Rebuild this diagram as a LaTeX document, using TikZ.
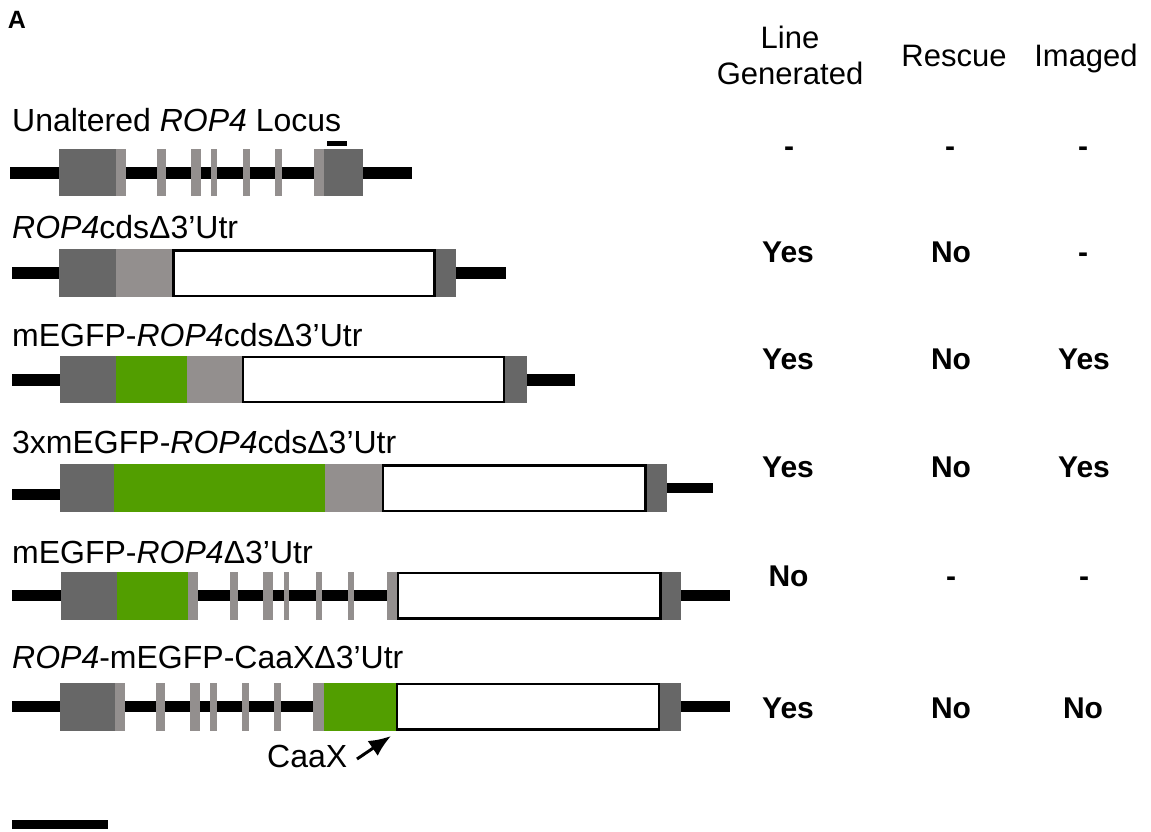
\documentclass[tikz,border=0pt]{standalone}
\usepackage{fontspec}
\setmainfont{Liberation Sans}
\usetikzlibrary{arrows.meta}
\definecolor{exdark}{RGB}{103,103,103}
\definecolor{exlight}{RGB}{147,143,142}
\definecolor{fpgreen}{RGB}{82,158,0}
\begin{document}
\begin{tikzpicture}[x=1pt,y=-1pt,
  intron/.style={fill=black},
  cds/.style={fill=exdark},
  exon/.style={fill=exlight},
  gfp/.style={fill=fpgreen},
  utr/.style={fill=white,draw=black,line width=2.4pt},
  lbl/.style={anchor=base west,inner sep=0pt,font=\fontsize{32}{36}\selectfont},
  val/.style={anchor=base,inner sep=0pt,font=\fontsize{30}{36}\selectfont\bfseries},
  hdr/.style={inner sep=0pt,align=center,font=\fontsize{31}{36}\selectfont}]
\useasboundingbox (0,0) rectangle (1151,831);
\fill[white] (0,0) rectangle (1151,831);

% panel letter
\node[inner sep=0pt,font=\fontsize{25}{28}\selectfont\bfseries] (panel) at (17,20) {A};

% column headers
\node[hdr] (hline) at (790,55) {Line\\Generated};
\node[hdr,anchor=base] (hrescue) at (954,66) {Rescue};
\node[hdr,anchor=base] (himaged) at (1086,66) {Imaged};

% ---- unaltered locus ----
\node[lbl] (lab1) at (12,131) {Unaltered \textit{ROP4} Locus};
\fill[intron] (10,167) rectangle (412,179);
\fill[cds] (59,149) rectangle (115.7,196);
\fill[exon] (115.7,149) rectangle (125.7,196);
\fill[exon] (156.7,149) rectangle (165.7,196);
\fill[exon] (190.7,149) rectangle (200.7,196);
\fill[exon] (211,149) rectangle (217.3,196);
\fill[exon] (243.3,149) rectangle (250,196);
\fill[exon] (275.3,149) rectangle (282,196);
\fill[exon] (314.3,149) rectangle (324.3,196);
\fill[cds] (324.3,149) rectangle (363.3,196);
\fill[intron] (326.7,141) rectangle (347.3,145.5);

% ---- ROP4cds d3'UTR ----
\node[lbl] (lab2) at (12,238.5) {\textit{ROP4}cdsΔ3’Utr};
\fill[intron] (11.7,267.3) rectangle (505.7,279);
\fill[cds] (59.3,249.3) rectangle (115.7,297.3);
\fill[exon] (115.7,249.3) rectangle (172.3,297.3);
\fill[cds] (435.7,249.3) rectangle (456,297.3);
\draw[utr] (173.5,250.5) rectangle (434.5,296.1);

% ---- mEGFP-ROP4cds ----
\node[lbl] (lab3) at (12,346) {mEGFP-\textit{ROP4}cdsΔ3’Utr};
\fill[intron] (11.7,374.3) rectangle (575,385.7);
\fill[cds] (60,356) rectangle (116,403.3);
\fill[gfp] (116,356) rectangle (187.3,403.3);
\fill[exon] (187.3,356) rectangle (241.7,403.3);
\fill[cds] (505,356) rectangle (526.7,403.3);
\draw[utr] (243,357.2) rectangle (503.8,402.1);

% ---- 3xmEGFP-ROP4cds ----
\node[lbl] (lab4) at (12,453.3) {3xmEGFP-\textit{ROP4}cdsΔ3’Utr};
\fill[intron] (11.7,489) rectangle (61,500.3);
\fill[intron] (665,482.7) rectangle (713.3,493.3);
\fill[cds] (60,464.3) rectangle (114,512.3);
\fill[gfp] (114,464.3) rectangle (325,512.3);
\fill[exon] (325,464.3) rectangle (381.7,512.3);
\fill[cds] (646.7,464.3) rectangle (666.7,512.3);
\draw[utr] (383,465.5) rectangle (645.5,511.1);

% ---- mEGFP-ROP4 gene ----
\node[lbl] (lab5) at (12,563.3) {mEGFP-\textit{ROP4}Δ3’Utr};
\fill[intron] (11.7,590) rectangle (730,601);
\fill[cds] (61,571.5) rectangle (117.3,619.5);
\fill[gfp] (117.3,571.5) rectangle (188.3,619.5);
\fill[exon] (188.3,571.5) rectangle (198.3,619.5);
\fill[exon] (230,571.5) rectangle (237.7,619.5);
\fill[exon] (263.3,571.5) rectangle (272.7,619.5);
\fill[exon] (284,571.5) rectangle (289.3,619.5);
\fill[exon] (316,571.5) rectangle (322,619.5);
\fill[exon] (348.3,571.5) rectangle (354,619.5);
\fill[exon] (386.7,571.5) rectangle (396.7,619.5);
\fill[cds] (661.7,571.5) rectangle (681,619.5);
\draw[utr] (398,572.7) rectangle (660.5,618.3);

% ---- ROP4-mEGFP-CaaX ----
\node[lbl] (lab6) at (12,668.3) {\textit{ROP4}-mEGFP-CaaXΔ3’Utr};
\fill[intron] (11.7,700.7) rectangle (730,712.3);
\fill[cds] (60.3,682.7) rectangle (115.4,730.7);
\fill[exon] (115.4,682.7) rectangle (124.8,730.7);
\fill[exon] (156.4,682.7) rectangle (164.9,730.7);
\fill[exon] (189.9,682.7) rectangle (200.3,730.7);
\fill[exon] (210.2,682.7) rectangle (216.8,730.7);
\fill[exon] (242.2,682.7) rectangle (248.8,730.7);
\fill[exon] (274.3,682.7) rectangle (280.9,730.7);
\fill[exon] (313.4,682.7) rectangle (324.2,730.7);
\fill[gfp] (324.2,682.7) rectangle (395.7,730.7);
\fill[cds] (660,682.7) rectangle (681,730.7);
\draw[utr] (397,684) rectangle (658.8,729.5);

% CaaX pointer
\node[lbl] (caax) at (267,767) {CaaX};
\coordinate (caaxend) at (391,736);
\coordinate (caaxtail) at (357,759);
\draw[line width=3pt,-{Latex[length=22pt,width=18pt]}] (caaxtail) -- (caaxend);

% scale bar
\fill[intron] (12,820) rectangle (108,828.5);

% ---- outcome table ----
\node[val] (r1a) at (789,156) {-};
\node[val] (r1b) at (950,156) {-};
\node[val] (r1c) at (1083,156) {-};
\node[val] (r2a) at (788,262) {Yes};
\node[val] (r2b) at (951,262) {No};
\node[val] (r2c) at (1083,262) {-};
\node[val] (r3a) at (788,369) {Yes};
\node[val] (r3b) at (951,369) {No};
\node[val] (r3c) at (1084,369) {Yes};
\node[val] (r4a) at (788,477) {Yes};
\node[val] (r4b) at (951,477) {No};
\node[val] (r4c) at (1084,477) {Yes};
\node[val] (r5a) at (788.5,586) {No};
\node[val] (r5b) at (951,586) {-};
\node[val] (r5c) at (1084,586) {-};
\node[val] (r6a) at (788,718) {Yes};
\node[val] (r6b) at (951,718) {No};
\node[val] (r6c) at (1083,718) {No};
\end{tikzpicture}
\end{document}
